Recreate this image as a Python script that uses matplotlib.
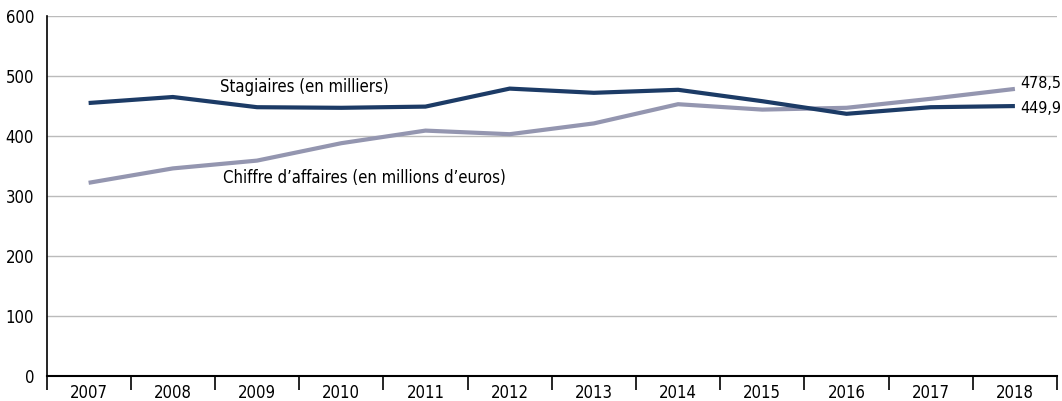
import matplotlib
matplotlib.use('Agg')
import matplotlib.pyplot as plt
from matplotlib import font_manager
from matplotlib.ticker import FixedLocator, NullFormatter

years = ['2007', '2008', '2009', '2010', '2011', '2012',
         '2013', '2014', '2015', '2016', '2017', '2018']
stagiaires = [455, 465, 448, 447, 449, 479, 472, 477, 458, 437, 448, 449.9]
chiffre = [322, 346, 359, 388, 409, 403, 421, 453, 444, 447, 462, 478.5]
yticks = [0, 100, 200, 300, 400, 500, 600]

# police étroite si dispo
names = set(f.name for f in font_manager.fontManager.ttflist)
if 'Liberation Sans Narrow' in names:
    plt.rcParams['font.family'] = ['Liberation Sans Narrow', 'DejaVu Sans']
else:
    plt.rcParams['font.family'] = ['DejaVu Sans']
    plt.rcParams['font.stretch'] = 'condensed'

navy = '#1c3b66'
grey = '#9496b0'

fig = plt.figure(figsize=(10.62, 4.01), dpi=100)
ax = fig.add_axes([0.0438, 0.0623, 0.9515, 0.8978])

x = list(range(len(years)))
ax.plot(x, chiffre, color=grey, lw=3, solid_capstyle='butt', solid_joinstyle='miter', zorder=3)
ax.plot(x, stagiaires, color=navy, lw=3, solid_capstyle='butt', solid_joinstyle='miter', zorder=4)

ax.set_xlim(-0.5, len(years) - 0.5)
ax.set_ylim(0, 600)

ax.set_yticks(yticks)
ax.set_yticklabels([str(v) for v in yticks], fontsize=12)
ax.tick_params(axis='y', length=0, pad=9)
ax.grid(axis='y', color='#bbbbbb', lw=1)
ax.set_axisbelow(True)

ax.xaxis.set_major_locator(FixedLocator([i - 0.5 for i in range(len(years) + 1)]))
ax.xaxis.set_major_formatter(NullFormatter())
ax.xaxis.set_minor_locator(FixedLocator(x))
ax.set_xticklabels(years, minor=True, fontsize=12)
ax.tick_params(axis='x', which='major', length=10, width=1.2, direction='out', color='black')
ax.tick_params(axis='x', which='minor', length=0, pad=6)

for s in ['top', 'right']:
    ax.spines[s].set_visible(False)
ax.spines['left'].set_linewidth(1.2)
ax.spines['bottom'].set_linewidth(1.5)

ax.text(1.56, 481, 'Stagiaires (en milliers)', fontsize=12, va='center', ha='left')
ax.text(1.59, 330, 'Chiffre d\u2019affaires (en millions d\u2019euros)', fontsize=12, va='center', ha='left')

ax.annotate('478,5', (x[-1], chiffre[-1]), xytext=(3.5, 4), textcoords='offset points',
            fontsize=11.5, va='center', ha='left', annotation_clip=False)
ax.annotate('449,9', (x[-1], stagiaires[-1]), xytext=(3.5, -2), textcoords='offset points',
            fontsize=11.5, va='center', ha='left', annotation_clip=False)

fig.savefig('out.png', dpi=100)
